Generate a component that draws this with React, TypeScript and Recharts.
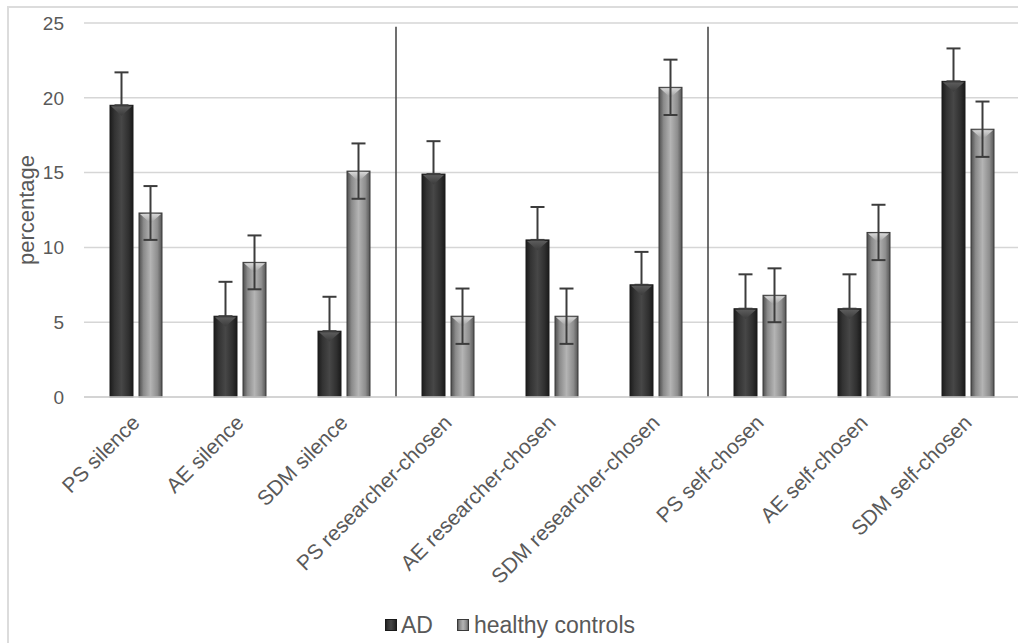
import React from 'react';
import { BarChart, Bar, XAxis, YAxis, CartesianGrid, ErrorBar, ReferenceLine, Legend } from 'recharts';

const categories = ['PS silence', 'AE silence', 'SDM silence', 'PS researcher-chosen', 'AE researcher-chosen', 'SDM researcher-chosen', 'PS self-chosen', 'AE self-chosen', 'SDM self-chosen'];
const adValues = [19.5, 5.4, 4.4, 14.9, 10.5, 7.5, 5.9, 5.9, 21.1];
const hcValues = [12.3, 9.0, 15.1, 5.4, 5.4, 20.7, 6.8, 11.0, 17.9];
const adErrors = [2.2, 2.3, 2.3, 2.2, 2.2, 2.2, 2.3, 2.3, 2.2];
const hcErrors = [1.8, 1.8, 1.85, 1.85, 1.85, 1.85, 1.8, 1.85, 1.85];
const yTicks = [0, 5, 10, 15, 20, 25];
const separatorBefore = [3, 6];
const separatorTop = 24.75;
const seriesNames = ['AD', 'healthy controls'];

const data = categories.map((c, i) => ({
  name: c,
  ad: adValues[i],
  hc: hcValues[i],
  adErr: [0, adErrors[i]],
  hcErr: hcErrors[i],
}));

const FONT = '"Liberation Sans", Arial, sans-serif';
const TEXT = '#595959';

const BevelBar = (props: any) => {
  const { x, y, width, height, variant } = props;
  if (!height || height <= 0) return null;
  const g = variant === 'ad' ? 'gradAD' : 'gradHC';
  const t = variant === 'ad' ? 'topAD' : 'topHC';
  const stroke = variant === 'ad' ? '#1a1a1a' : '#3a3a3a';
  const tri = Math.min(width * 0.45, height);
  return (
    <g>
      <rect x={x} y={y} width={width} height={height} fill={`url(#${g})`} stroke={stroke} strokeWidth={1} />
      <polygon points={`${x + 1},${y + 1} ${x + width - 1},${y + 1} ${x + width / 2},${y + tri}`} fill={`url(#${t})`} />
    </g>
  );
};

const XTick = (props: any) => {
  const { x, y, payload } = props;
  const ax = x + 5;
  const ay = y + 27;
  return (
    <text x={ax} y={ay} transform={`rotate(-45 ${ax} ${ay})`} textAnchor="end" fontSize={21} fill={TEXT} fontFamily={FONT}>
      {payload.value}
    </text>
  );
};

const LegendContent = () => (
  <div style={{ display: 'flex', justifyContent: 'center', alignItems: 'center', height: 36, fontFamily: FONT, fontSize: 23, color: TEXT }}>
    <svg width={12} height={12} style={{ marginRight: 4 }}>
      <rect x={0.5} y={0.5} width={11} height={11} fill="url(#gradAD)" stroke="#1a1a1a" />
    </svg>
    <span style={{ marginRight: 24 }}>{seriesNames[0]}</span>
    <svg width={12} height={12} style={{ marginRight: 5 }}>
      <rect x={0.5} y={0.5} width={11} height={11} fill="url(#gradHC)" stroke="#3a3a3a" />
    </svg>
    <span>{seriesNames[1]}</span>
  </div>
);

export default function App() {
  return (
    <div style={{ position: 'absolute', left: 0, top: 0, width: 1018, height: 643, overflow: 'hidden', background: '#fff' }}>
      <div style={{ position: 'absolute', left: 7, top: 6, width: 1100, height: 700, border: '2px solid #dcdcdc', boxSizing: 'border-box' }} />
      <svg width={0} height={0} style={{ position: 'absolute' }}>
        <defs>
          <linearGradient id="gradAD" x1="0" y1="0" x2="1" y2="0">
            <stop offset="0%" stopColor="#1c1c1c" />
            <stop offset="20%" stopColor="#333333" />
            <stop offset="50%" stopColor="#474747" />
            <stop offset="80%" stopColor="#303030" />
            <stop offset="100%" stopColor="#1a1a1a" />
          </linearGradient>
          <linearGradient id="gradHC" x1="0" y1="0" x2="1" y2="0">
            <stop offset="0%" stopColor="#4e4e4e" />
            <stop offset="20%" stopColor="#8a8a8a" />
            <stop offset="50%" stopColor="#b4b4b4" />
            <stop offset="80%" stopColor="#8e8e8e" />
            <stop offset="100%" stopColor="#555555" />
          </linearGradient>
          <linearGradient id="topAD" x1="0" y1="0" x2="0" y2="1">
            <stop offset="0%" stopColor="#5c5c5c" />
            <stop offset="100%" stopColor="#3c3c3c" />
          </linearGradient>
          <linearGradient id="topHC" x1="0" y1="0" x2="0" y2="1">
            <stop offset="0%" stopColor="#d6d6d6" />
            <stop offset="100%" stopColor="#9a9a9a" />
          </linearGradient>
        </defs>
      </svg>
      <div style={{ position: 'absolute', left: 0, top: 0 }}>
        <BarChart width={1020} height={643} data={data} margin={{ top: 23, right: 0, bottom: 0, left: 0 }} barGap={6} barSize={23}>
          <CartesianGrid vertical={false} stroke="#d6d6d6" strokeWidth={1.5} />
          <XAxis dataKey="name" interval={0} tick={<XTick />} tickLine={false} tickSize={0} tickMargin={0} height={210} axisLine={{ stroke: '#d0d0d0', strokeWidth: 1.5 }} />
          <YAxis
            width={84}
            domain={[0, 25]}
            ticks={yTicks}
            tickLine={false}
            axisLine={false}
            tickSize={6}
            tickMargin={14}
            tick={{ fill: TEXT, fontSize: 19, fontFamily: FONT }}
            label={{ value: 'percentage', angle: -90, position: 'insideLeft', offset: 26, textAnchor: 'middle', fill: TEXT, fontSize: 22, fontFamily: FONT }}
          />
          {separatorBefore.map((s) => (
            <ReferenceLine
              key={s}
              segment={[{ x: categories[s], y: 0 }, { x: categories[s], y: separatorTop }]}
              position="start"
              stroke="#404040"
              strokeWidth={1.5}
            />
          ))}
          <Bar dataKey="ad" name={seriesNames[0]} isAnimationActive={false} shape={(p: any) => <BevelBar {...p} variant="ad" />}>
            <ErrorBar dataKey="adErr" width={7} strokeWidth={2} stroke="#3c3c3c" direction="y" />
          </Bar>
          <Bar dataKey="hc" name={seriesNames[1]} isAnimationActive={false} shape={(p: any) => <BevelBar {...p} variant="hc" />}>
            <ErrorBar dataKey="hcErr" width={7} strokeWidth={2} stroke="#3c3c3c" direction="y" />
          </Bar>
          <Legend verticalAlign="bottom" content={<LegendContent />} />
        </BarChart>
      </div>
    </div>
  );
}
